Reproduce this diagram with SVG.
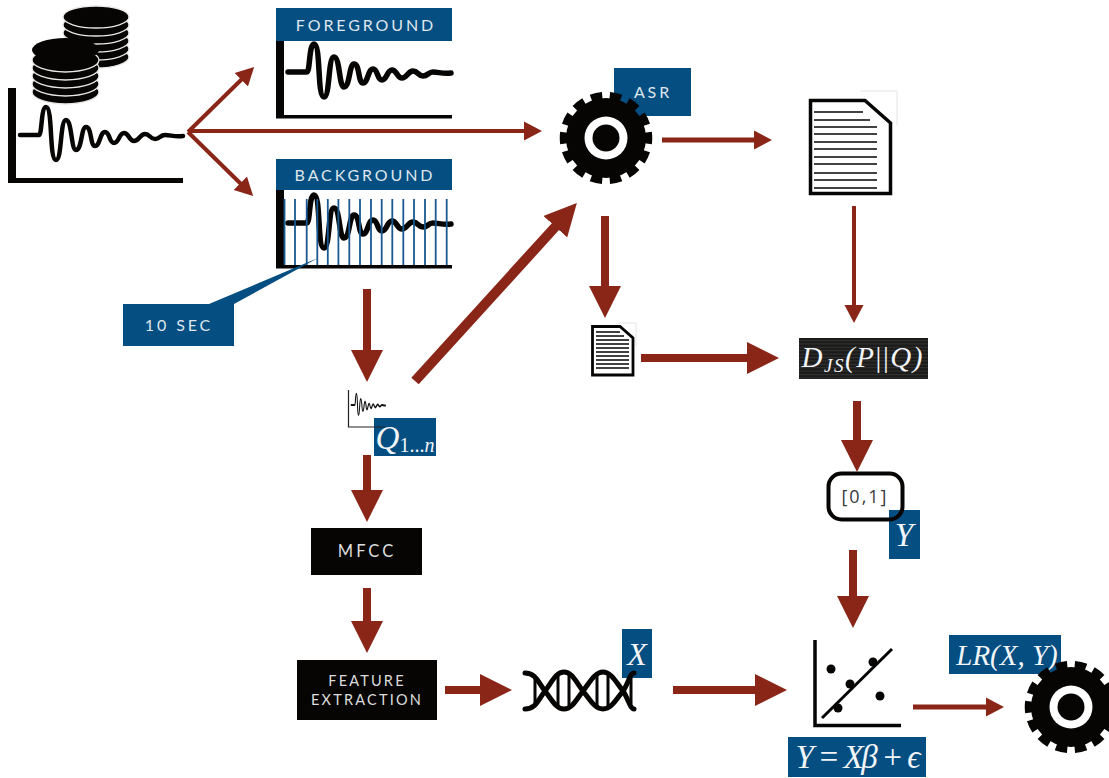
<svg xmlns="http://www.w3.org/2000/svg" xmlns:xlink="http://www.w3.org/1999/xlink" width="1109" height="778" viewBox="0 0 1109 778">
<style>
.bg{fill:#044e82}
.blk{fill:#060504}
.lab{font-family:"Lato","Liberation Sans",sans-serif;fill:#dfe6ec;font-size:16px;letter-spacing:2.9px;text-anchor:middle}
.sub{fill:#ddd;font-size:14.5px;letter-spacing:2.2px}
.math{font-family:"Liberation Serif",serif;font-style:italic;fill:#f2f5f8;text-anchor:middle}
.wave{fill:none;stroke:#060504;stroke-linejoin:round;stroke-linecap:round}
.a1{stroke:#8a2618;fill:none}
.big{stroke-width:8;marker-end:url(#headBig)}
.med{stroke-width:5;marker-end:url(#headSmall)}
.thin{stroke-width:4;marker-end:url(#headSmall)}
.docl{stroke:#060504;stroke-width:1.7}
.coin{fill:#060504;stroke:#e8e8e8;stroke-width:1.3}
</style>
<defs>
<marker id="headBig" markerUnits="userSpaceOnUse" markerWidth="32" markerHeight="32" refX="1" refY="16" orient="auto"><path d="M0,0L32,16L0,32Z" fill="#8a2618"/></marker>
<marker id="headSmall" markerUnits="userSpaceOnUse" markerWidth="18" markerHeight="20" refX="1" refY="10" orient="auto"><path d="M0,0.5L18,10L0,19.5Z" fill="#8a2618"/></marker>
<path id="wv" d="M20,135H39C42,135 41,107 46,107C53,107 49,160 56,160C62,160 60,120 66,120C72,120 71,150 76,150C82,150 81,127 86,127C92,127 90,146 95,146C100,146 100,132 105,132C110,132 109,143 114,143C119,143 119,133 124,133C129,133 129,141 134,141C139,141 140,134 145,134C150,134 150,139 155,139C160,139 160,135 165,135C171,135 174,137 183,136"/>
<g id="gear"><circle r="40" class="blk"/><circle r="42.500" fill="none" stroke="#060504" stroke-width="7.500" pathLength="28" stroke-dasharray="1.2 .8" stroke-dashoffset=".6"/><circle r="21.500" fill="#fff"/><circle r="13.500" class="blk"/></g>
<pattern id="stripes" width="4" height="3.4" patternUnits="userSpaceOnUse"><rect width="4" height="3.4" fill="#1c1b1a"/><rect width="4" height="1" fill="#333"/></pattern>
</defs>

<g id="source">
<rect class="blk" x="8" y="88" width="8" height="95"/><rect class="blk" x="8" y="178" width="175" height="5"/>
<use xlink:href="#wv" href="#wv" class="wave" stroke-width="4.500"/>
<g id="coins-back"><ellipse class="coin" cx="96" cy="57" rx="33" ry="11"/><ellipse class="coin" cx="96" cy="49" rx="33" ry="11"/><ellipse class="coin" cx="96" cy="41" rx="33" ry="11"/><ellipse class="coin" cx="96" cy="33" rx="33" ry="11"/><ellipse class="coin" cx="96" cy="25" rx="33" ry="11"/><ellipse class="coin" cx="96" cy="17" rx="33" ry="11"/></g>
<g id="coins-front"><ellipse class="coin" cx="65.500" cy="92" rx="33.500" ry="12"/><ellipse class="coin" cx="65.500" cy="84" rx="33.500" ry="12"/><ellipse class="coin" cx="65.500" cy="76" rx="33.500" ry="12"/><ellipse class="coin" cx="65.500" cy="68" rx="33.500" ry="12"/><ellipse class="coin" cx="65.500" cy="60" rx="33.500" ry="12"/><ellipse class="blk" cx="65.500" cy="50" rx="33.500" ry="12"/></g>
</g>

<g id="foreground">
<rect class="bg" x="276" y="8" width="176" height="33"/>
<text class="lab" x="366" y="31">FOREGROUND</text>
<rect class="blk" x="276" y="41" width="8" height="77"/><rect class="blk" x="276" y="115" width="176" height="3.500"/>
<use xlink:href="#wv" href="#wv" class="wave" stroke-width="5.500" transform="translate(268,-63)"/>
</g>

<g id="background">
<rect class="bg" x="276" y="159" width="176" height="31"/>
<text class="lab" x="365" y="181">BACKGROUND</text>
<rect class="blk" x="276" y="190" width="8" height="78"/><rect class="blk" x="276" y="265" width="176" height="3.500"/>
<use xlink:href="#wv" href="#wv" class="wave" stroke-width="5.500" transform="translate(268,88)"/>
<path stroke="#1a5a90" stroke-width="1.800" fill="none" d="M284.500,199V265M295,199V265M306.700,199V265M317.300,199V265M327.800,199V265M338.400,199V265M349.300,199V265M360,199V265M371,199V265M381.700,199V265M392.300,199V265M403.300,199V265M414,199V265M425,199V265M435.700,199V265M446.700,199V265"/>
</g>

<g id="ten-sec">
<polygon class="bg" points="123,304 209,304 318,258 234,304 234,346 123,346"/>
<text class="lab" x="179" y="331">10 SEC</text>
</g>

<g id="asr">
<rect class="bg" x="614" y="68" width="77" height="48"/>
<text class="lab" x="653" y="98">ASR</text>
<use xlink:href="#gear" href="#gear" transform="translate(606,138)"/>
</g>

<g id="doc-large">
<path d="M860,91H897V125" fill="#fff" stroke="#e4e4e4" stroke-width="1"/>
<path d="M810.500,100.500H865L890.500,123V193.500H810.500Z" fill="#fff" stroke="#060504" stroke-width="3.500"/>
<path class="docl" d="M814,112H863M814,120H870M814,127H877M814,134H877M814,142H877M814,149H877M814,157H877M814,164H877M814,173H877M814,180H877M814,188H877"/>
</g>

<g id="doc-small">
<path d="M618,323H636V346" fill="#fff" stroke="#e4e4e4" stroke-width="1"/>
<path d="M592.500,326.500H620L633,338V375H592.500Z" fill="#fff" stroke="#060504" stroke-width="2.800"/>
<path class="docl" d="M596,332H620M596,336H624M596,340H629M596,344H629M596,348H629M596,352H629M596,356H629M596,360H629M596,364H629M596,368H629"/>
</g>

<g id="djs">
<rect x="799" y="338" width="129" height="41" fill="url(#stripes)"/>
<text class="math" x="862" y="367" font-size="29" textLength="121" lengthAdjust="spacing">D<tspan font-size="19" dy="5">JS</tspan><tspan dy="-5">(P</tspan><tspan font-style="normal">||</tspan>Q)</text>
</g>

<g id="range">
<rect class="bg" x="889" y="510" width="31" height="49"/>
<text class="math" x="904" y="546" font-size="33">Y</text>
<rect x="828.500" y="473.500" width="74" height="46" rx="13" fill="none" stroke="#060504" stroke-width="4"/>
<text x="865" y="503" font-family="'Open Sans','DejaVu Sans',sans-serif" font-size="18" letter-spacing="2" fill="#3a3a3a" text-anchor="middle">[0,1]</text>
</g>

<g id="segment">
<rect class="bg" x="374" y="418" width="62" height="38"/>
<text class="math" x="405" y="449" font-size="33">Q<tspan font-size="20" dy="3" font-style="normal">1...</tspan><tspan font-size="20">n</tspan></text>
<path d="M348.500,390V427H385" fill="none" stroke="#222" stroke-width="1.200"/>
<g transform="translate(346.500,351) scale(.215,.4)"><use xlink:href="#wv" href="#wv" fill="none" stroke="#111" stroke-width="5"/></g>
</g>

<g id="mfcc">
<rect class="blk" x="311" y="528" width="111" height="47"/>
<text class="lab" x="367" y="557" style="fill:#ddd;font-size:16.500px;letter-spacing:3px">MFCC</text>
</g>

<g id="feature-extraction">
<rect class="blk" x="297" y="660" width="140" height="60"/>
<text class="lab sub" x="367" y="686">FEATURE</text>
<text class="lab sub" x="367" y="705">EXTRACTION</text>
</g>

<g id="dna">
<rect class="bg" x="622" y="629" width="30" height="49"/>
<text class="math" x="637" y="665" font-size="32">X</text>
<path fill="none" stroke="#060504" stroke-width="5" stroke-linecap="round" d="M525,673C536,673 538,682 545,691C552,700 556,709 564,709C572,709 576,700 583,691C590,682 595,672 603,672C611,672 616,682 623,691C628,698 630,709 634,709M525,709C536,709 538,700 545,691C552,682 556,672 564,672C572,672 576,682 583,691C590,700 595,709 603,709C611,709 616,700 623,691C628,684 630,673 634,673"/>
<path fill="none" stroke="#060504" stroke-width="3" d="M535,678V704M558,674V708M569,674V708M597,674V708M608,674V708M631,678V704"/>
</g>

<g id="regression">
<path d="M815,640V725.500H901" fill="none" stroke="#060504" stroke-width="3.500"/>
<path d="M822,718L892,649" stroke="#060504" stroke-width="3" fill="none"/>
<circle class="blk" cx="831" cy="669" r="4.500"/><circle class="blk" cx="873" cy="662" r="4.500"/><circle class="blk" cx="850" cy="684" r="4.500"/><circle class="blk" cx="880" cy="696" r="4.500"/><circle class="blk" cx="838" cy="708" r="4.500"/>
<rect class="bg" x="788" y="737" width="138" height="40"/>
<text class="math" x="858" y="768" font-size="33" textLength="125" lengthAdjust="spacing">Y = Xβ + ϵ</text>
</g>

<g id="lr">
<rect class="bg" x="949" y="635" width="112" height="39"/>
<text class="math" x="1007" y="665" font-size="29">LR(X, Y)</text>
<use xlink:href="#gear" href="#gear" transform="translate(1071,707)"/>
</g>

<g id="connectors">
<line class="a1 thin" x1="188" y1="132" x2="242" y2="79"/>
<line class="a1 thin" x1="188" y1="132" x2="241" y2="184"/>
<line class="a1 thin" x1="188" y1="131" x2="525" y2="131"/>
<line class="a1 med" x1="662" y1="140" x2="755" y2="140"/>
<line class="a1 thin" x1="854" y1="206" x2="854" y2="306"/>
<line class="a1 big" x1="605" y1="216" x2="605" y2="287"/>
<line class="a1 big" x1="641" y1="358" x2="748" y2="358"/>
<line class="a1 big" x1="857" y1="401" x2="857" y2="441"/>
<line class="a1 big" x1="853" y1="550" x2="853" y2="597"/>
<line class="a1 big" x1="367" y1="289" x2="367" y2="351"/>
<line class="a1" stroke-width="10" marker-end="url(#headBig)" x1="415" y1="381" x2="556" y2="226"/>
<line class="a1 big" x1="367" y1="455" x2="367" y2="491"/>
<line class="a1 big" x1="367" y1="588" x2="367" y2="622"/>
<line class="a1 big" x1="445" y1="690" x2="481" y2="690"/>
<line class="a1 big" x1="673" y1="690" x2="756" y2="690"/>
<line class="a1 med" x1="913" y1="707" x2="987" y2="707"/>
</g>
</svg>
